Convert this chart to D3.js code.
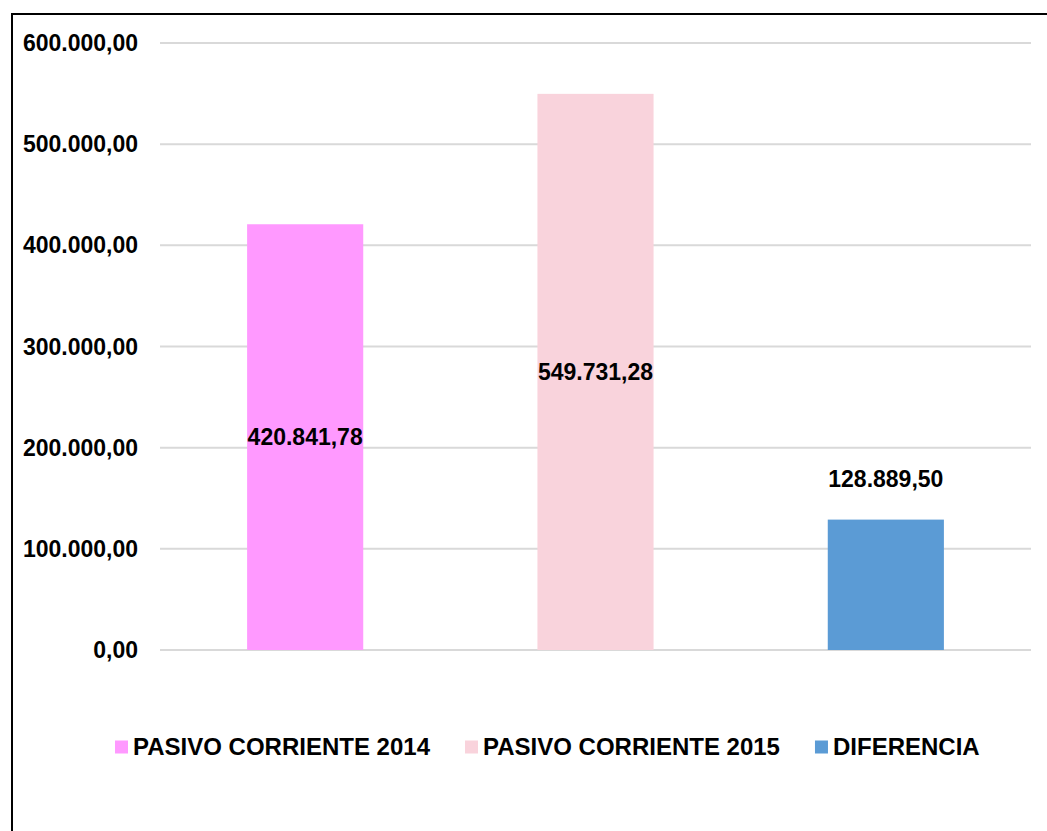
<!DOCTYPE html>
<html>
<head>
<meta charset="utf-8">
<script src="https://cdn.jsdelivr.net/npm/d3@7"></script>
<style>
  body { margin: 0; background: #fff; }
  text { font-family: "Liberation Sans", Arial, sans-serif; font-weight: bold; }
</style>
</head>
<body>
<svg id="chart" width="1047" height="831"></svg>
<script>
// datos
const categories = ["PASIVO CORRIENTE 2014", "PASIVO CORRIENTE 2015", "DIFERENCIA"];
const values = [420841.78, 549731.28, 128889.50];
const colors = ["#FF99FF", "#F9D3DC", "#5B9BD5"];
const yTicks = [0, 100000, 200000, 300000, 400000, 500000, 600000];

const width = 1047, height = 831;
const plot = { left: 160, right: 1031, top: 43, bottom: 650 };

const svg = d3.select("#chart");

// marco exterior (sale del recorte por la derecha y abajo)
svg.append("rect")
    .attr("x", 12).attr("y", 14)
    .attr("width", 1100).attr("height", 900)
    .attr("fill", "none")
    .attr("stroke", "#000")
    .attr("stroke-width", 2);

// formato es-ES: 600.000,00
const fmt = v => {
  const [ent, dec] = v.toFixed(2).split(".");
  return ent.replace(/\B(?=(\d{3})+(?!\d))/g, ".") + "," + dec;
};

const x = d3.scaleBand()
    .domain(categories)
    .range([plot.left, plot.right])
    .paddingInner(0.6)
    .paddingOuter(0.3);

const y = d3.scaleLinear()
    .domain([0, 600000])
    .range([plot.bottom, plot.top]);

// líneas de cuadrícula
svg.append("g")
  .selectAll("line")
  .data(yTicks)
  .join("line")
    .attr("x1", plot.left)
    .attr("x2", plot.right)
    .attr("y1", d => y(d))
    .attr("y2", d => y(d))
    .attr("stroke", "#D9D9D9")
    .attr("stroke-width", 2);

// etiquetas eje Y
svg.append("g")
  .selectAll("text")
  .data(yTicks)
  .join("text")
    .attr("x", 138)
    .attr("y", d => y(d))
    .attr("dy", "0.35em")
    .attr("text-anchor", "end")
    .attr("font-size", "23px")
    .attr("fill", "#000")
    .text(d => fmt(d));

// barras
svg.append("g")
  .selectAll("rect")
  .data(values)
  .join("rect")
    .attr("x", (d, i) => x(categories[i]))
    .attr("y", d => y(d))
    .attr("width", x.bandwidth())
    .attr("height", d => y(0) - y(d))
    .attr("fill", (d, i) => colors[i]);

// etiquetas de datos (las dos primeras centradas, la última encima)
svg.append("g")
  .selectAll("text")
  .data(values)
  .join("text")
    .attr("x", (d, i) => x(categories[i]) + x.bandwidth() / 2)
    .attr("y", (d, i) => i < 2 ? (y(d) + y(0)) / 2 : y(d) - 41)
    .attr("dy", "0.35em")
    .attr("text-anchor", "middle")
    .attr("font-size", "23px")
    .attr("fill", "#000")
    .text(d => fmt(d));

// leyenda
const legend = svg.append("g").attr("transform", "translate(115,747)");
let lx = 0;
categories.forEach((c, i) => {
  const g = legend.append("g").attr("transform", `translate(${lx},0)`);
  g.append("rect")
      .attr("x", 0).attr("y", -6.5)
      .attr("width", 13).attr("height", 13)
      .attr("fill", colors[i]);
  const t = g.append("text")
      .attr("x", 18)
      .attr("dy", "0.35em")
      .attr("font-size", "24px")
      .attr("fill", "#000")
      .text(c);
  lx += 18 + t.node().getComputedTextLength() + 35;
});
</script>
</body>
</html>
